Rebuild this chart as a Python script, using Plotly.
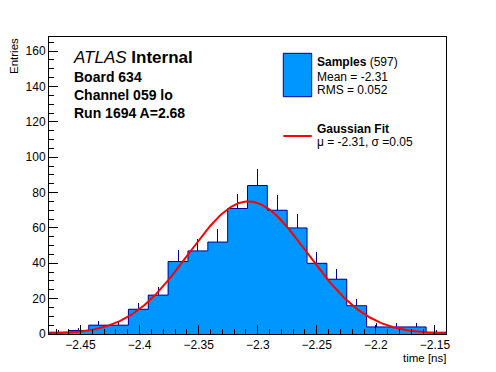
import numpy as np
import plotly.graph_objects as go

# ---- data ----
counts = [1, 2, 5, 5, 14, 22, 41, 47, 52, 71, 84, 70, 60, 40, 31, 16, 4, 4, 4, 1]
x_min = -2.4767
x_max = -2.1406
y_max = 168
x_tick_vals = [-2.45, -2.4, -2.35, -2.3, -2.25, -2.2, -2.15]
y_tick_vals = [0, 20, 40, 60, 80, 100, 120, 140, 160]
n_entries = 597
stat_mean = -2.31
stat_rms = 0.052
fit_mu = -2.308
fit_sigma = 0.0504
fit_amp = 75.0

FILL = "#0096FF"
EDGE = "#000099"
FONT = "Liberation Sans"

edges = np.linspace(x_min, x_max, len(counts) + 1)
centers = 0.5 * (edges[:-1] + edges[1:])
bw = edges[1] - edges[0]
errs = np.sqrt(np.array(counts, dtype=float))

fig = go.Figure()
fig.add_trace(go.Bar(
    x=centers, y=counts, width=bw,
    marker=dict(color=FILL, line=dict(width=0)),
    error_y=dict(type="data", symmetric=False, array=errs,
                 arrayminus=np.zeros(len(counts)), color=EDGE,
                 thickness=1, width=0),
    showlegend=False, hoverinfo="skip"))

ox = [edges[0]] + list(edges[:-1]) + [edges[-1]]
oy = [0] + list(counts) + [0]
fig.add_trace(go.Scatter(x=ox, y=oy, mode="lines",
                         line=dict(shape="hv", color=EDGE, width=1),
                         showlegend=False, hoverinfo="skip"))

fx = np.linspace(x_min, x_max, 400)
fy = fit_amp * np.exp(-0.5 * ((fx - fit_mu) / fit_sigma) ** 2)
fig.add_trace(go.Scatter(x=fx, y=fy, mode="lines",
                         line=dict(color="#FF0000", width=2),
                         showlegend=False, hoverinfo="skip"))

L, R, T, B = 49, 50, 37, 38
W, H = 496, 372
pw, ph = W - L - R, H - T - B


def px(xp):
    return (xp - L) / pw


def py(yp):
    return (H - B - yp) / ph


def minus(v):
    s = ("%g" % v)
    return s.replace("-", "\u2212")


fig.update_layout(
    width=W, height=H,
    margin=dict(l=L, r=R, t=T, b=B),
    paper_bgcolor="white", plot_bgcolor="white",
    bargap=0,
    font=dict(family=FONT, color="black", size=12),
    xaxis=dict(range=[x_min, x_max], showgrid=False, zeroline=False,
               showline=True, linecolor="black", linewidth=1, mirror=True,
               ticks="inside", ticklen=9, tickcolor="black", tickwidth=1,
               tickmode="array", tickvals=x_tick_vals,
               ticktext=[minus(v) for v in x_tick_vals],
               tickfont=dict(size=12, family=FONT),
               minor=dict(ticks="inside", ticklen=5, tickcolor="black",
                          tickmode="linear", tick0=-2.5, dtick=0.01,
                          showgrid=False)),
    yaxis=dict(range=[0, y_max], showgrid=False, zeroline=False,
               showline=True, linecolor="black", linewidth=1, mirror=True,
               ticks="inside", ticklen=9, tickcolor="black", tickwidth=1,
               tickmode="array", tickvals=y_tick_vals,
               ticktext=[str(v) for v in y_tick_vals],
               tickfont=dict(size=12, family=FONT),
               minor=dict(ticks="inside", ticklen=5, tickcolor="black",
                          tickmode="linear", tick0=0, dtick=5,
                          showgrid=False)),
)

ann = []


def text(x, y, s, size, xanchor="left", yanchor="middle", angle=0):
    ann.append(dict(xref="paper", yref="paper", x=px(x), y=py(y), text=s,
                    showarrow=False, xanchor=xanchor, yanchor=yanchor,
                    textangle=angle, borderpad=0,
                    font=dict(size=size, family=FONT, color="black")))


# axis titles
text(14, T, "Entries", 11.5, xanchor="center", yanchor="top", angle=-90)
text(447, 358, "time [ns]", 11.5, xanchor="right")

# ATLAS label block
text(72, 57.7, "<i>ATLAS</i> <b>Internal</b>", 17)
text(73, 76.7, "<b>Board 634</b>", 14)
text(73, 95, "<b>Channel 059 lo</b>", 14)
text(73, 113, "<b>Run 1694 A=2.68</b>", 14)

# legend
text(316, 61.7, "<b>Samples</b> (%d)" % n_entries, 12)
text(316, 77.3, "Mean = %s" % ("%.2f" % stat_mean), 12)
text(316, 90.3, "RMS = %s" % ("%.3f" % stat_rms), 12)
text(316, 129.3, "<b>Gaussian Fit</b>", 12)
text(316, 141.5, "\u03bc = %.2f, \u03c3 =%.2f" % (fit_mu, fit_sigma), 12)

fig.update_layout(annotations=ann)

fig.add_shape(type="rect", xref="paper", yref="paper",
              x0=px(283.3), x1=px(311.7), y0=py(96.7), y1=py(53.3),
              fillcolor=FILL, line=dict(color=EDGE, width=1))
fig.add_shape(type="line", xref="paper", yref="paper",
              x0=px(283.3), x1=px(311.7), y0=py(136), y1=py(136),
              line=dict(color="#FF0000", width=2))

fig.write_html(
    "out.html",
    config={"displayModeBar": False},
    post_script="document.body.style.margin='0';"
                "document.body.style.overflow='hidden';")
